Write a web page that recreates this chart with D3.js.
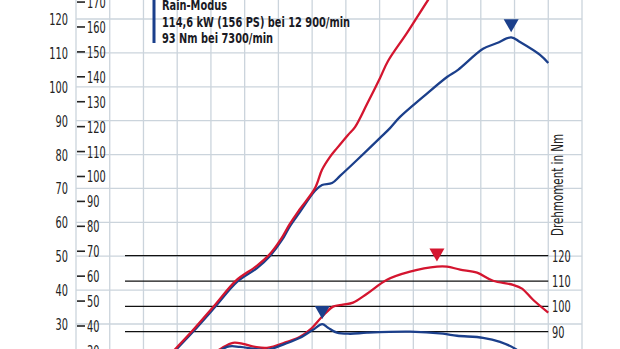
<!DOCTYPE html>
<html>
<head>
<meta charset="utf-8">
<script src="https://cdn.jsdelivr.net/npm/d3@7"></script>
<style>
  body { margin: 0; background: #fff; }
  text { font-family: "Liberation Sans Narrow", "DejaVu Sans Condensed", sans-serif; }
</style>
</head>
<body>
<svg id="chart" width="620" height="349"></svg>
<script>
// power curves in kW over rpm
var rainPower = [[2490,17.3],[2994,22.7],[3469,27.7],[4121,35.0],[4773,42.4],[5366,46.5],[5752,50.1],
  [6107,54.8],[6344,58.9],[6641,63.1],[7086,69.3],[7293,71.0],[7590,71.6],[7827,73.7],[8331,78.4],
  [9013,84.9],[9309,87.8],[9606,91.1],[10288,97.0],[10999,102.9],[11325,105.0],[12067,111.2],
  [12482,112.9],[12900,114.6],[13163,113.2],[13756,109.4],[14000,107.0]];
var fullPower = [[2470,17.6],[2980,23.0],[3450,28.0],[4100,35.4],[4750,42.9],[5350,47.1],[5740,50.6],
  [6090,55.3],[6330,59.4],[6630,63.8],[7086,70.1],[7293,75.5],[7530,79.3],[7738,81.9],[8064,85.8],
  [8271,88.1],[8627,94.9],[9013,102.6],[9250,107.6],[9813,115.9],[10436,125.6],[10800,131]];

// torque curves in Nm over rpm
var rainTorque = [[3700,76],[4477,84.0],[4862,84.0],[5307,83.2],[5663,82.8],[6196,85.2],[6641,87.6],
  [7026,90.8],[7300,93.0],[7471,91.6],[7738,89.6],[8123,89.2],[8627,89.6],[9902,90.0],[10881,89.2],
  [11296,88.4],[12067,87.6],[12570,86.0],[13015,83.3],[13400,79]];
var fullTorque = [[3824,78.9],[4329,83.6],[4655,85.6],[4951,85.2],[5307,84.0],[5663,83.6],[6256,86.0],
  [6641,88.0],[6938,90.8],[7293,95.9],[7620,99.9],[7916,100.7],[8212,101.5],[8627,105.0],[9220,110.5],
  [9902,113.7],[10703,115.7],[11000,115.7],[11385,114.5],[11889,113.3],[12363,110.1],[12956,108.5],
  [13223,107.0],[13549,102.6],[14000,97.5]];

var peaks = [
  {rpm: 12900, val: 114.6, axis: "kw", color: "#1b3f8b"},
  {rpm: 10700, val: 115.7, axis: "nm", color: "#d4152f"},
  {rpm: 7300, val: 93.0, axis: "nm", color: "#1b3f8b"}
];

var kwTicks = d3.range(30, 121, 10);
var psTicks = d3.range(20, 171, 10);
var nmTicks = [90, 100, 110, 120];
var legendLines = ["Rain-Modus", "114,6 kW (156 PS) bei 12 900/min", "93 Nm bei 7300/min"];
var legendWidths = [65, 188, 111];

var red = "#d4152f", blue = "#1b3f8b", gridColor = "#cbd4dc";
var squeeze = 0.66; // narrow the fallback font to look condensed

var svg = d3.select("#chart");

var x = d3.scaleLinear().domain([0, 15000]).range([76, 582]);
var yKw = d3.scaleLinear().domain([30, 120]).range([324, 19]);
var yNm = d3.scaleLinear().domain([90, 120]).range([331.7, 255.7]);

// grid
svg.append("g")
  .selectAll("line")
  .data(d3.range(0, 15001, 1000))
  .enter()
  .append("line")
  .attr("x1", d => x(d)).attr("x2", d => x(d))
  .attr("y1", 0).attr("y2", 349)
  .attr("stroke", gridColor).attr("stroke-width", 1.3);

svg.append("g")
  .selectAll("line")
  .data(d3.range(20, 131, 10))
  .enter()
  .append("line")
  .attr("x1", x(0)).attr("x2", x(15000))
  .attr("y1", d => yKw(d)).attr("y2", d => yKw(d))
  .attr("stroke", gridColor).attr("stroke-width", 1.3);

// torque reference lines
svg.append("g")
  .selectAll("line")
  .data(nmTicks)
  .enter()
  .append("line")
  .attr("x1", 125).attr("x2", x(14000))
  .attr("y1", d => yNm(d)).attr("y2", d => yNm(d))
  .attr("stroke", "#111").attr("stroke-width", 1.2);

// kW labels
svg.append("g")
  .selectAll("text")
  .data(kwTicks)
  .enter()
  .append("text")
  .attr("transform", d => "translate(68," + yKw(d) + ") scale(" + squeeze + ",1)")
  .attr("dy", "0.36em")
  .attr("text-anchor", "end")
  .attr("font-size", 16.5)
  .attr("fill", "#222")
  .text(d => d);

// PS labels with dash ticks
var ps = svg.append("g")
  .selectAll("g")
  .data(psTicks)
  .enter()
  .append("g")
  .attr("transform", d => "translate(0," + yKw(d / 1.36) + ")");
ps.append("line")
  .attr("x1", 77).attr("x2", 85)
  .attr("stroke", "#222").attr("stroke-width", 1.6);
ps.append("text")
  .attr("transform", "translate(87,0) scale(" + squeeze + ",1)")
  .attr("dy", "0.36em")
  .attr("font-size", 16.5)
  .attr("fill", "#222")
  .text(d => d);

// Nm labels
svg.append("g")
  .selectAll("text")
  .data(nmTicks)
  .enter()
  .append("text")
  .attr("transform", d => "translate(552," + yNm(d) + ") scale(" + squeeze + ",1)")
  .attr("dy", "0.36em")
  .attr("font-size", 16.5)
  .attr("fill", "#222")
  .text(d => d);

svg.append("text")
  .attr("transform", "translate(563,236) rotate(-90)")
  .attr("font-size", 15)
  .attr("textLength", 102)
  .attr("lengthAdjust", "spacingAndGlyphs")
  .attr("fill", "#222")
  .text("Drehmoment in Nm");

// curves
var line = function(yScale) {
  return d3.line()
    .curve(d3.curveCatmullRom)
    .x(d => x(d[0]))
    .y(d => yScale(d[1]));
};

var series = [
  {data: fullTorque, y: yNm, color: red},
  {data: rainTorque, y: yNm, color: blue},
  {data: rainPower, y: yKw, color: blue},
  {data: fullPower, y: yKw, color: red}
];

svg.append("g")
  .selectAll("path")
  .data(series)
  .enter()
  .append("path")
  .attr("d", d => line(d.y)(d.data))
  .attr("fill", "none")
  .attr("stroke", d => d.color)
  .attr("stroke-width", 2.3)
  .attr("stroke-linejoin", "round");

// peak markers
svg.append("g")
  .selectAll("path")
  .data(peaks)
  .enter()
  .append("path")
  .attr("transform", function(d) {
    var py = d.axis == "kw" ? yKw(d.val) : yNm(d.val);
    return "translate(" + x(d.rpm) + "," + (py - 5) + ")";
  })
  .attr("d", "M-7.5,-13L7.5,-13L0,0Z")
  .attr("fill", d => d.color);

// legend
svg.append("rect")
  .attr("x", 152.5).attr("y", 0)
  .attr("width", 3).attr("height", 43)
  .attr("fill", blue);

svg.append("g")
  .selectAll("text")
  .data(legendLines)
  .enter()
  .append("text")
  .attr("x", 162)
  .attr("y", (d, i) => 5 + i * 16.5)
  .attr("dy", "0.36em")
  .attr("font-size", 14.5)
  .attr("font-weight", 600)
  .attr("textLength", (d, i) => legendWidths[i])
  .attr("lengthAdjust", "spacingAndGlyphs")
  .attr("fill", "#1a1a24")
  .text(d => d);
</script>
</body>
</html>
